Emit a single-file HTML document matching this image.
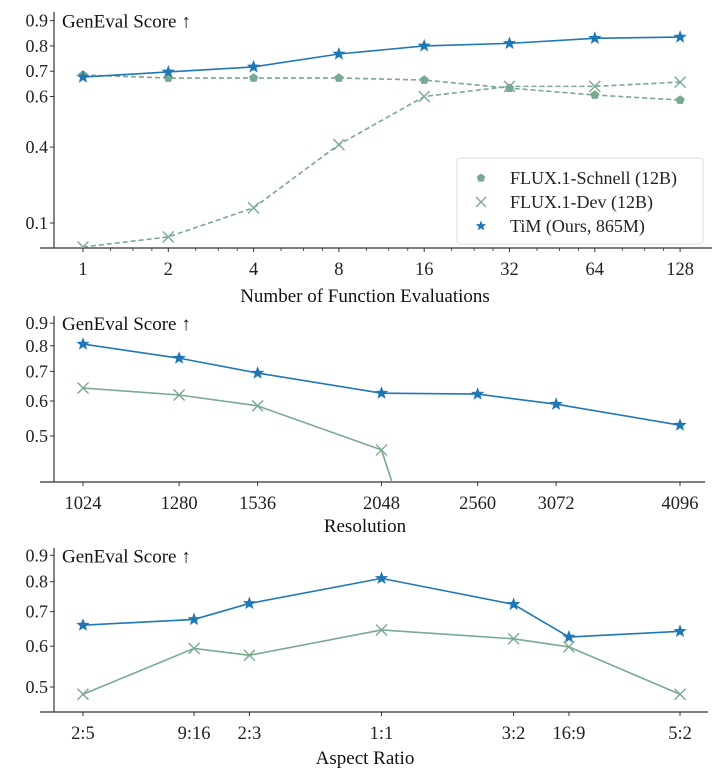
<!DOCTYPE html>
<html><head><meta charset="utf-8">
<style>
html,body{margin:0;padding:0;background:#fff;}
svg{display:block;font-family:"Liberation Serif","DejaVu Serif",serif;}
</style></head>
<body>
<svg id="fig" width="720" height="774" viewBox="0 0 720 774" xmlns="http://www.w3.org/2000/svg"></svg>
<script>
// ---- Panel 1: NFE ----
const nfeSteps = [1, 2, 4, 8, 16, 32, 64, 128];
const nfeTim = [0.677, 0.697, 0.717, 0.768, 0.80, 0.81, 0.83, 0.835];
const nfeSchnell = [0.685, 0.673, 0.673, 0.673, 0.665, 0.633, 0.606, 0.586];
const nfeDev = [0.005, 0.045, 0.16, 0.41, 0.60, 0.64, 0.64, 0.657];
const nfeYTicks = [0.1, 0.4, 0.6, 0.7, 0.8, 0.9];
// ---- Panel 2: Resolution ----
const resValues = [1024, 1280, 1536, 2048, 2560, 3072, 4096];
const resTim = [0.807, 0.75, 0.694, 0.625, 0.622, 0.59, 0.529];
const resDev = [0.642, 0.619, 0.585, 0.465, 0.10];
const resYTicks = [0.5, 0.6, 0.7, 0.8, 0.9];
// ---- Panel 3: Aspect ratio ----
const arLabels = ["2:5", "9:16", "2:3", "1:1", "3:2", "16:9", "5:2"];
const arRatios = [0.4, 0.5625, 0.6667, 1, 1.5, 1.7778, 2.5];
const arTim = [0.659, 0.676, 0.726, 0.812, 0.723, 0.625, 0.641];
const arDev = [0.484, 0.594, 0.576, 0.645, 0.62, 0.598, 0.484];
const arYTicks = [0.5, 0.6, 0.7, 0.8, 0.9];

const NS = "http://www.w3.org/2000/svg";
const svg = document.getElementById("fig");
const BLUE = "#1f77b4", GREEN = "#79a98e", AX = "#333";

function el(tag, attrs, parent) {
  const e = document.createElementNS(NS, tag);
  for (const k in attrs) e.setAttribute(k, attrs[k]);
  (parent || svg).appendChild(e);
  return e;
}
function starPts(cx, cy, r) {
  const p = [];
  for (let i = 0; i < 10; i++) {
    const a = -Math.PI / 2 + i * Math.PI / 5;
    const rr = i % 2 ? r * 0.42 : r;
    p.push((cx + rr * Math.cos(a)).toFixed(1) + "," + (cy + rr * Math.sin(a)).toFixed(1));
  }
  return p.join(" ");
}
function pentPts(cx, cy, r) {
  const p = [];
  for (let i = 0; i < 5; i++) {
    const a = -Math.PI / 2 + i * 2 * Math.PI / 5;
    p.push((cx + r * Math.cos(a)).toFixed(1) + "," + (cy + r * Math.sin(a)).toFixed(1));
  }
  return p.join(" ");
}
function marker(g, type, x, y, color) {
  let m;
  if (type === "star") m = el("polygon", {points: starPts(x, y, 7), fill: color}, g);
  else if (type === "pent") m = el("polygon", {points: pentPts(x, y, 4.8), fill: color}, g);
  else {
    m = el("path", {d: `M${x-5.5},${y-5.5}L${x+5.5},${y+5.5}M${x-5.5},${y+5.5}L${x+5.5},${y-5.5}`, stroke: color, "stroke-width": 1.4, fill: "none"}, g);
  }
  return m;
}
let clipId = 0;
function series(panel, xs, ys, xf, yf, color, type, dashed, name) {
  const g = el("g", {"clip-path": `url(#${panel.clip})`});
  
  
  const pts = xs.slice(0, ys.length).map((x, i) => [xf(x), yf(ys[i])]);
  const line = el("polyline", {points: pts.map(p => p.join(",")).join(" "), fill: "none", stroke: color, "stroke-width": 1.6, "stroke-dasharray": dashed ? "5,3" : "none"}, g);
  
  
  pts.forEach((p, i) => {
    const m = marker(g, type, p[0], p[1], color);
    
    
  });
}
function panel(o) {
  const id = "clip" + (clipId++);
  const defs = el("defs", {});
  const cp = el("clipPath", {id: id}, defs);
  el("rect", {x: o.x0, y: o.top - 10, width: o.x1 - o.x0, height: o.bottom - o.top + 10}, cp);
  const g = el("g", {});
  
  
  const ya = el("line", {x1: o.x0, y1: o.top, x2: o.x0, y2: o.bottom, stroke: AX, "stroke-width": 1.2}, g);
  
  
  const xa = el("line", {x1: o.x0 - 14, y1: o.bottom, x2: o.x1, y2: o.bottom, stroke: AX, "stroke-width": 1.2}, g);
  
  
  o.yTicks.forEach(v => {
    const y = o.yf(v);
    el("line", {x1: o.x0 - 4, y1: y, x2: o.x0, y2: y, stroke: AX, "stroke-width": 1}, g);
    const t = el("text", {x: o.x0 - 6, y: y + 6, "text-anchor": "end", "font-size": 18, fill: "#222"}, g);
    t.textContent = v.toFixed(1);
    
    
  });
  o.xTicks.forEach((v, i) => {
    const x = o.xf(v);
    el("line", {x1: x, y1: o.bottom, x2: x, y2: o.bottom + 4, stroke: AX, "stroke-width": 1}, g);
    const t = el("text", {x: x, y: o.bottom + 27, "text-anchor": "middle", "font-size": 18.5, fill: "#222"}, g);
    t.textContent = o.xLabels[i];
    
    
  });
  const yt = el("text", {x: o.x0 + 8, y: o.yf(0.9) + 7, "font-size": 19, fill: "#111"}, g);
  yt.textContent = "GenEval Score ↑";
  
  
  const xt = el("text", {x: 365, y: o.xlabelY, "text-anchor": "middle", "font-size": 19, fill: "#111"}, g);
  xt.textContent = o.xlabel;
  
  
  o.clip = id;
  return o;
}

// Panel 1
const p1 = panel({name: "nfe-chart", x0: 54, x1: 712, top: 12, bottom: 248,
  xf: v => 83 + 85.3 * Math.log2(v), yf: v => 223 - (v - 0.1) * 253,
  yTicks: nfeYTicks, xTicks: nfeSteps, xLabels: nfeSteps.map(String),
  xlabel: "Number of Function Evaluations", xlabelY: 302});
for (let k = 0; k < 7; k++) for (const f of [1.25, 1.5, 1.75]) {
  const x = p1.xf(Math.pow(2, k) * f);
  el("line", {x1: x, y1: 248, x2: x, y2: 251, stroke: AX, "stroke-width": 0.8});
}
series(p1, nfeSteps, nfeSchnell, p1.xf, p1.yf, GREEN, "pent", true, "flux-schnell-series");
series(p1, nfeSteps, nfeDev, p1.xf, p1.yf, GREEN, "x", true, "flux-dev-series");
series(p1, nfeSteps, nfeTim, p1.xf, p1.yf, BLUE, "star", false, "tim-series");
// legend
const lg = el("g", {});


el("rect", {x: 457, y: 158, width: 246, height: 86, rx: 3, fill: "#fff", stroke: "#ddd"}, lg);
[["pent", GREEN, "FLUX.1-Schnell (12B)"], ["x", GREEN, "FLUX.1-Dev (12B)"], ["star", BLUE, "TiM (Ours, 865M)"]].forEach((e, i) => {
  const y = 178 + i * 24;
  const g = el("g", {}, lg);
  
  
  if (e[0] === "star") el("polygon", {points: starPts(481, y, 5.5), fill: e[1]}, g);
  else if (e[0] === "pent") el("polygon", {points: pentPts(481, y, 4.5), fill: e[1]}, g);
  else el("path", {d: `M476,${y-5}L486,${y+5}M476,${y+5}L486,${y-5}`, stroke: e[1], "stroke-width": 1.3}, g);
  const t = el("text", {x: 510, y: y + 6, "font-size": 18, fill: "#222"}, g);
  t.textContent = e[2];
});

// Panel 2
const p2 = panel({name: "resolution-chart", x0: 54, x1: 705, top: 316, bottom: 482,
  xf: v => 83 + 298.5 * Math.log2(v / 1024), yf: v => 436 - (Math.log(v) - Math.log(0.5)) * 192,
  yTicks: resYTicks, xTicks: resValues, xLabels: resValues.map(String),
  xlabel: "Resolution", xlabelY: 532});
series(p2, resValues, resDev, p2.xf, p2.yf, GREEN, "x", false, "flux-dev-series");
series(p2, resValues, resTim, p2.xf, p2.yf, BLUE, "star", false, "tim-series");

// Panel 3
const p3 = panel({name: "aspect-ratio-chart", x0: 54, x1: 708, top: 548, bottom: 712,
  xf: v => 381.5 + 325.8 * Math.log(v), yf: v => 687 - (Math.log(v) - Math.log(0.5)) * 224,
  yTicks: arYTicks, xTicks: arRatios, xLabels: arLabels,
  xlabel: "Aspect Ratio", xlabelY: 764});
series(p3, arRatios, arDev, p3.xf, p3.yf, GREEN, "x", false, "flux-dev-series");
series(p3, arRatios, arTim, p3.xf, p3.yf, BLUE, "star", false, "tim-series");
</script>
</body></html>
